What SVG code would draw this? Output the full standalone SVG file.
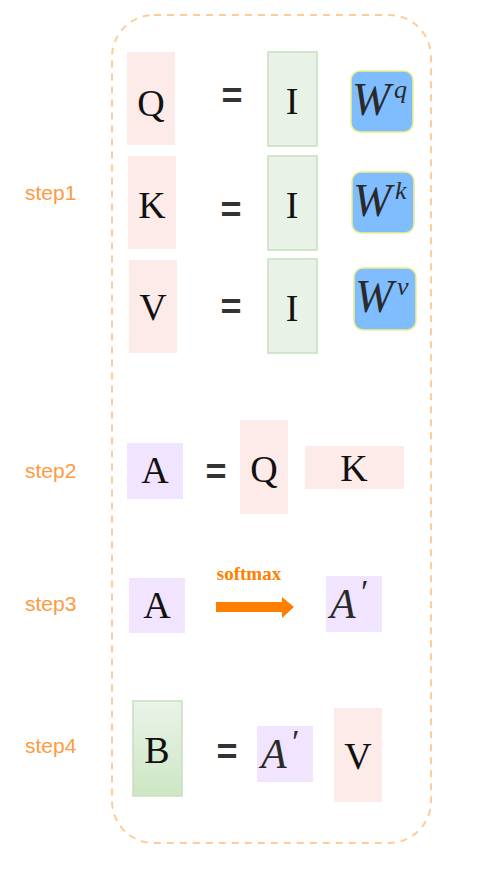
<svg xmlns="http://www.w3.org/2000/svg" width="497" height="887" viewBox="0 0 497 887">
<defs>
<linearGradient id="gB" x1="0" y1="0" x2="0" y2="1"><stop offset="0" stop-color="#eaf3e8"/><stop offset="1" stop-color="#cde6c4"/></linearGradient>
<style>
.pink{fill:#fcebe8}
.purp{fill:#f0e4fe}
.green{fill:#e8f2e6;stroke:#c6dfbf;stroke-width:1.5}
.blue{fill:#80bdff;stroke:#eef08c;stroke-width:1.5}
.t{font-family:"Liberation Serif","Times New Roman",serif;font-size:38px;fill:#111;text-anchor:middle}
.m{font-family:"Liberation Serif","Times New Roman",serif;font-style:italic;fill:#2a2a2a}
.eq{font-family:"Liberation Sans",Arial,sans-serif;font-weight:bold;font-size:36px;fill:#333;text-anchor:middle}
.step{font-family:"Liberation Sans",Arial,sans-serif;font-size:21px;fill:#ff9a40}
</style>
</defs>
<rect x="112" y="15" width="319" height="828" rx="42" ry="42" fill="none" stroke="#ffcc99" stroke-width="2" stroke-dasharray="7,6"/>

<g id="labels">
<text class="step" x="25" y="200">step1</text>
<text class="step" x="25" y="478">step2</text>
<text class="step" x="25" y="611">step3</text>
<text class="step" x="25" y="753">step4</text>
</g>

<g id="Q1"><rect class="pink" x="127" y="52" width="48" height="93"/><text class="t" x="151" y="116">Q</text></g>
<g id="eq1"><text class="eq" x="232" y="108">=</text></g>
<g id="I1"><rect class="green" x="268" y="52" width="49" height="94"/><text class="t" x="292" y="114">I</text></g>
<g id="Wq"><rect class="blue" x="351" y="71" width="62" height="61" rx="9"/><text class="m" x="352" y="115" font-size="46">W</text><text class="m" x="394" y="98" font-size="26">q</text></g>

<g id="K1"><rect class="pink" x="128" y="156" width="48" height="93"/><text class="t" x="152" y="218">K</text></g>
<g id="eq2"><text class="eq" x="231" y="222">=</text></g>
<g id="I2"><rect class="green" x="268" y="156" width="49" height="94"/><text class="t" x="292" y="218">I</text></g>
<g id="Wk"><rect class="blue" x="352" y="172" width="62" height="61" rx="9"/><text class="m" x="353" y="216" font-size="46">W</text><text class="m" x="395" y="199" font-size="26">k</text></g>

<g id="V1"><rect class="pink" x="129" y="260" width="48" height="93"/><text class="t" x="153" y="320">V</text></g>
<g id="eq3"><text class="eq" x="231" y="319">=</text></g>
<g id="I3"><rect class="green" x="268" y="259" width="49" height="94"/><text class="t" x="292" y="321">I</text></g>
<g id="Wv"><rect class="blue" x="354" y="268" width="62" height="62" rx="9"/><text class="m" x="355" y="312" font-size="46">W</text><text class="m" x="397" y="295" font-size="26">v</text></g>

<g id="A2"><rect class="purp" x="127" y="443" width="56" height="56"/><text class="t" x="155" y="483">A</text></g>
<g id="eq4"><text class="eq" x="216" y="484">=</text></g>
<g id="Q2"><rect class="pink" x="240" y="420" width="48" height="94"/><text class="t" x="264" y="482">Q</text></g>
<g id="K2"><rect class="pink" x="305" y="446" width="99" height="43"/><text class="t" x="354" y="481">K</text></g>

<g id="A3"><rect class="purp" x="129" y="578" width="56" height="55"/><text class="t" x="157" y="618">A</text></g>
<g id="connectors">
<text x="249" y="580" font-family="Liberation Serif,'Times New Roman',serif" font-weight="bold" font-size="19" fill="#ff8000" text-anchor="middle">softmax</text>
<polygon points="216,602 282,602 282,597 294,607 282,618 282,612 216,612" fill="#ff8000"/>
</g>
<g id="Ap3"><rect class="purp" x="326" y="576" width="56" height="56"/><text class="m" x="330" y="618" font-size="42">A</text><text class="m" x="359" y="603" font-size="34">′</text></g>

<g id="B"><rect x="133" y="701" width="49" height="95" fill="url(#gB)" stroke="#c6dfbf" stroke-width="1.5"/><text class="t" x="157" y="763">B</text></g>
<g id="eq5"><text class="eq" x="227" y="764">=</text></g>
<g id="Ap4"><rect class="purp" x="257" y="726" width="56" height="56"/><text class="m" x="261" y="768" font-size="42">A</text><text class="m" x="290" y="753" font-size="34">′</text></g>
<g id="V2"><rect class="pink" x="334" y="708" width="48" height="94"/><text class="t" x="358" y="769">V</text></g>
</svg>
